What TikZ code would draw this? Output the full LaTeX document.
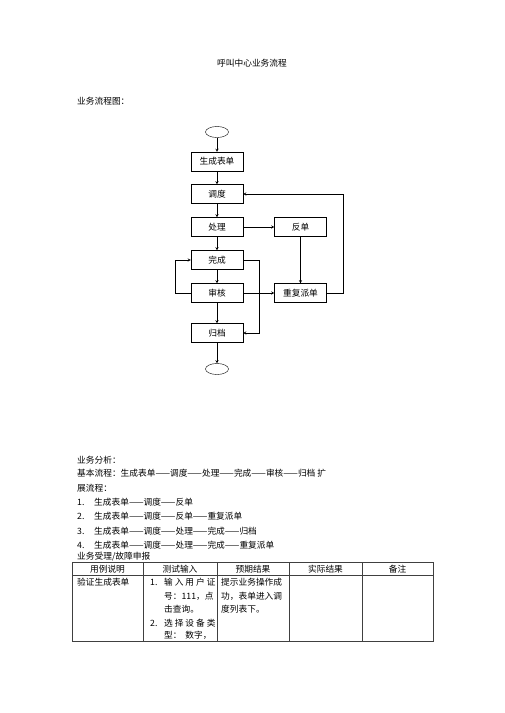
\documentclass[tikz,border=0pt]{standalone}
\usepackage{fontspec}
\newfontfamily\cjk{Noto Sans CJK SC}
\usetikzlibrary{shapes.geometric}
\tikzset{
  flow details/.style={
    >=stealth,
    x=1pt, y=-1pt,
    every node/.style={
      font=\cjk\fontsize{8.7}{10}\selectfont,
      inner sep=0pt
    },
  },
  procbox/.style={draw, thin, minimum width=52pt, minimum height=19pt},
  termcap/.style={draw, thin, ellipse, minimum width=23pt, minimum height=11pt},
  textline/.style={anchor=west},
  tabline/.style={draw=black!75, line width=0.5pt}
}

\begin{document}
\begin{tikzpicture}[flow details]
\useasboundingbox (0,0) rectangle (504,713);
\node (title) at (252,63) {呼叫中心业务流程};
\node (head) at (77,101) [textline] {业务流程图：};
% flow chart
\node (start) at (217,132) [termcap] {};
\node (scbd) at (217,161.5) [procbox] {生成表单};
\node (dd) at (217,194) [procbox] {调度};
\node (cl) at (217,227) [procbox] {处理};
\node (wc) at (217,260) [procbox] {完成};
\node (sh) at (217,293) [procbox] {审核};
\node (gd) at (217,333) [procbox] {归档};
\node (stop) at (217,369) [termcap] {};
\node (fd) at (300.5,227) [procbox] {反单};
\node (cfpd) at (300.5,293) [procbox] {重复派单};
\draw[->] (start) -- (scbd);
\draw[->] (scbd) -- (dd);
\draw[->] (dd) -- (cl);
\draw[->] (cl) -- (wc);
\draw[->] (wc) -- (sh);
\draw[->] (sh) -- (gd);
\draw[->] (gd) -- (stop);
\draw[->] (cl) -- (fd);
\draw[->] (fd) -- (cfpd);
\draw[->] (sh) -- (cfpd);
\draw[->] (cfpd.east) -- ++(16,0) |- (dd.east);
\draw[->] (sh.west) -- ++(-16,0) |- (wc.west);
\draw[->] (wc.east) -- ++(16,0) |- (gd.east);
% analysis
\node (fx) at (77,460.5) [textline] {业务分析：};
\node (jb) at (77,473.5) [textline] {基本流程：生成表单——调度——处理——完成——审核——归档 扩};
\node (zk) at (77,488) [textline] {展流程：};
\foreach \n/\y/\t in {1/502/{生成表单——调度——反单},
                      2/516.5/{生成表单——调度——反单——重复派单},
                      3/531/{生成表单——调度——处理——完成——归档},
                      4/545.5/{生成表单——调度——处理——完成——重复派单}}{
  \node (num\n) at (77,\y) [textline] {\n.};
  \node (item\n) at (94,\y) [textline] {\t};
}
\node (sl) at (77,556.5) [textline] {业务受理/故障申报};
% table
\draw[black, line width=0.7pt] (72,562.5) -- (433,562.5);
\draw[tabline] (72,562.5) rectangle (433,641);
\draw[tabline] (72,575) -- (433,575);
\foreach \cx in {143,217,289,362}
  \draw[tabline] (\cx,562.5) -- (\cx,641);
\node (h1) at (107.5,569) {用例说明};
\node (h2) at (180,569) {测试输入};
\node (h3) at (253,569) {预期结果};
\node (h4) at (325.5,569) {实际结果};
\node (h5) at (397.5,569) {备注};
\node (c1) at (77,582) [textline] {验证生成表单};
\node (n1) at (150,582) [textline] {1.};
\node (t1) at (164,582) [textline] {输 入 用 户 证};
\node (t2) at (164,596.5) [textline] {号：111，点};
\node (t3) at (164,609.5) [textline] {击查询。};
\node (n2) at (150,623) [textline] {2.};
\node (t4) at (164,623) [textline] {选 择 设 备 类};
\node (t5) at (164,635) [textline] {型：\ \ 数字，};
\node (e1) at (221,582) [textline] {提示业务操作成};
\node (e2) at (221,596.5) [textline] {功，表单进入调};
\node (e3) at (221,609.5) [textline] {度列表下。};
\end{tikzpicture}
\end{document}
